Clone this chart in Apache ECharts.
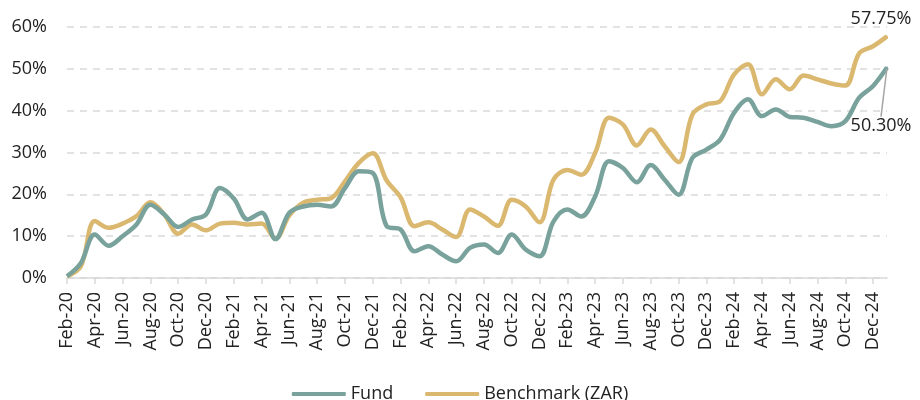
<!DOCTYPE html>
<html>
<head>
<meta charset="utf-8">
<script src="https://cdn.jsdelivr.net/npm/echarts@6/dist/echarts.min.js"></script>
<style>
  html, body { margin: 0; padding: 0; background: #fff; }
  #main { width: 920px; height: 400px; }
</style>
</head>
<body>
<div id="main"></div>
<script>
// months Feb-20 .. Jan-25
const monthNames = ['Jan','Feb','Mar','Apr','May','Jun','Jul','Aug','Sep','Oct','Nov','Dec']
const months = []
for (let y = 20; y <= 25; y++) {
  for (let m = 0; m < 12; m++) {
    if (y === 20 && m === 0) continue
    if (y === 25 && m > 0) break
    months.push(monthNames[m] + '-' + y)
  }
}

// cumulative return, %
const fund = [
  0.4, 3.6, 10.4, 7.7, 10.0, 12.8, 17.5, 15.2, 12.2, 14.0, 15.2, 21.5,
  19.0, 14.0, 15.6, 9.3, 15.6, 17.1, 17.5, 17.1, 21.5, 25.5, 25.1, 12.4,
  11.6, 6.4, 7.6, 5.6, 4.0, 7.2, 8.0, 6.0, 10.4, 6.8, 5.2, 13.5,
  16.4, 14.7, 19.5, 27.9, 26.3, 22.9, 27.0, 23.5, 19.9, 28.7, 30.7, 33.1,
  39.5, 42.7, 38.7, 40.3, 38.5, 38.3, 37.3, 36.3, 37.5, 43.1, 45.9, 50.30
]
const benchmark = [
  0.4, 2.8, 13.6, 12.0, 13.0, 14.8, 18.1, 15.2, 10.6, 12.8, 11.4, 13.0,
  13.2, 12.8, 13.0, 9.4, 15.0, 18.0, 18.7, 19.1, 23.1, 27.5, 29.8, 23.3,
  19.3, 12.4, 13.3, 11.6, 9.8, 16.4, 14.7, 12.5, 18.7, 17.1, 13.3, 23.5,
  25.8, 24.7, 29.9, 38.3, 36.7, 31.7, 35.5, 31.5, 27.7, 39.1, 41.5, 42.3,
  48.7, 51.1, 43.9, 47.5, 45.1, 48.4, 47.5, 46.5, 46.0, 53.7, 55.4, 57.75
]

const fundColor = '#78a29b'
const benchColor = '#dbb86f'
const font = 'Open Sans'
const fs = 18

// only the last point gets a (tiny) symbol so its label can show
function endLabelData(arr, label) {
  return arr.map((v, i) => i === arr.length - 1
    ? { value: v, symbol: 'circle', symbolSize: 2, label: label }
    : v)
}

let myEchart = echarts.init(document.getElementById('main'))
myEchart.setOption({
  animation: false,
  textStyle: { fontFamily: font },
  grid: { left: 67, right: 33, top: 27, bottom: 122 },
  legend: {
    bottom: -8,
    left: 'center',
    icon: 'roundRect',
    itemWidth: 54,
    itemHeight: 4,
    itemGap: 32,
    textStyle: { fontFamily: font, fontSize: fs, color: '#222' },
    data: ['Fund', 'Benchmark (ZAR)']
  },
  xAxis: {
    type: 'category',
    boundaryGap: false,
    data: months,
    axisLine: { lineStyle: { color: '#d9d9d9', width: 1.5 } },
    axisTick: { interval: 1, length: 6, lineStyle: { color: '#d9d9d9', width: 1.5 } },
    axisLabel: {
      interval: 1,
      rotate: 90,
      margin: 14,
      fontFamily: font,
      fontSize: fs,
      color: '#222'
    }
  },
  yAxis: {
    type: 'value',
    min: 0,
    max: 60,
    interval: 10,
    axisLine: { show: false },
    axisTick: { show: false },
    axisLabel: {
      formatter: '{value}%',
      margin: 20,
      fontFamily: font,
      fontSize: fs,
      color: '#222'
    },
    splitLine: { lineStyle: { color: '#d9d9d9', width: 1.5, type: [7, 6] } }
  },
  series: [
    {
      name: 'Fund',
      type: 'line',
      smooth: 0.35,
      symbol: 'none',
      z: 3,
      lineStyle: { color: fundColor, width: 4.5 },
      itemStyle: { color: fundColor },
      labelLayout: { dx: -6, dy: 43 },
      labelLine: { show: true, lineStyle: { color: '#a6a6a6', width: 1.5 } },
      data: endLabelData(fund, {
        show: true,
        position: 'bottom',
        formatter: p => p.value.toFixed(2) + '%',
        fontFamily: font,
        fontSize: fs,
        color: '#222'
      })
    },
    {
      name: 'Benchmark (ZAR)',
      type: 'line',
      smooth: 0.35,
      symbol: 'none',
      z: 2,
      lineStyle: { color: benchColor, width: 4.5 },
      itemStyle: { color: benchColor },
      data: endLabelData(benchmark, {
        show: true,
        position: 'top',
        distance: 8,
        offset: [-6, 0],
        formatter: p => p.value.toFixed(2) + '%',
        fontFamily: font,
        fontSize: fs,
        color: '#222'
      })
    }
  ]
})
</script>
</body>
</html>
